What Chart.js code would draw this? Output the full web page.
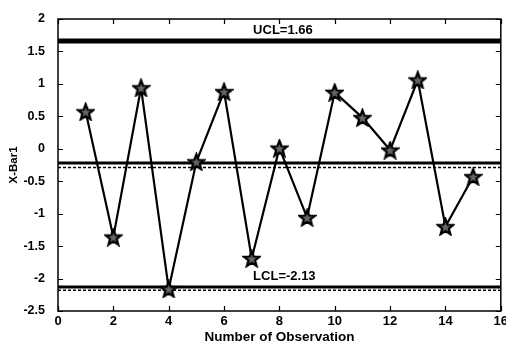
<!DOCTYPE html>
<html>
<head>
<meta charset="utf-8">
<script src="https://cdn.jsdelivr.net/npm/chart.js@4/dist/chart.umd.min.js"></script>
<style>
html,body{margin:0;padding:0;background:#fff;overflow:hidden;}
#wrap{width:506px;height:344px;position:relative;overflow:hidden;}
</style>
</head>
<body>
<div id="wrap"><canvas id="c" width="512" height="344"></canvas></div>
<script>
// ---- data ----
const observations = [1,2,3,4,5,6,7,8,9,10,11,12,13,14,15];
const xBar = [0.57,-1.36,0.94,-2.16,-0.20,0.88,-1.69,0.01,-1.06,0.87,0.48,-0.02,1.06,-1.20,-0.43];
const UCL = 1.66;
const CL = -0.22;
const CLdash = -0.29;
const LCL = -2.13;
const LCLdash = -2.18;
const limitLabels = ["UCL=1.66", "LCL=-2.13"];
const xTicks = [0,2,4,6,8,10,12,14,16];
const yTicks = [-2.5,-2,-1.5,-1,-0.5,0,0.5,1,1.5,2];

// star marker
function makeStar(size){
  const c = document.createElement('canvas');
  c.width = size; c.height = size;
  const g = c.getContext('2d');
  const cx = size/2, cy = size/2 + 0.8, R = size/2 - 1.2, r = R*0.42;
  g.beginPath();
  for (let i=0;i<10;i++){
    const a = -Math.PI/2 + i*Math.PI/5;
    const rad = i%2===0 ? R : r;
    const px = cx + rad*Math.cos(a), py = cy + rad*Math.sin(a);
    if(i===0) g.moveTo(px,py); else g.lineTo(px,py);
  }
  g.closePath();
  g.fillStyle = '#666';
  g.fill();
  g.lineWidth = 2.2;
  g.strokeStyle = '#000';
  g.lineJoin = 'miter';
  g.stroke();
  return c;
}
const star = makeStar(19);

const hline = (v) => [{x:0,y:v},{x:16,y:v}];

const FONT = "'Liberation Sans', Arial, sans-serif";

const framePlugin = {
  id:'frame',
  afterDatasetsDraw(chart){
    const {ctx, chartArea:a, scales:{x,y}} = chart;
    ctx.save();
    ctx.strokeStyle = '#000';
    ctx.lineWidth = 1.5;
    ctx.strokeRect(a.left, a.top, a.right-a.left, a.bottom-a.top);
    ctx.lineWidth = 1.2;
    const L = 5;
    xTicks.forEach(v=>{
      const px = Math.round(x.getPixelForValue(v))+0.5;
      ctx.beginPath();
      ctx.moveTo(px,a.bottom); ctx.lineTo(px,a.bottom-L);
      ctx.moveTo(px,a.top); ctx.lineTo(px,a.top+L);
      ctx.stroke();
    });
    yTicks.forEach(v=>{
      const py = Math.round(y.getPixelForValue(v))+0.5;
      ctx.beginPath();
      ctx.moveTo(a.left,py); ctx.lineTo(a.left+L,py);
      ctx.moveTo(a.right,py); ctx.lineTo(a.right-L,py);
      ctx.stroke();
    });
    ctx.fillStyle = '#000';
    // x tick labels
    ctx.font = "bold 13px " + FONT;
    ctx.textAlign = 'center';
    ctx.textBaseline = 'top';
    xTicks.forEach(v=>{
      ctx.fillText(String(v), x.getPixelForValue(v), a.bottom + 4);
    });
    // limit labels
    ctx.font = "bold 13px " + FONT;
    ctx.textBaseline = 'middle';
    ctx.textAlign = 'left';
    ctx.fillText(limitLabels[0], x.getPixelForValue(7.05), y.getPixelForValue(1.82));
    ctx.fillText(limitLabels[1], x.getPixelForValue(7.05), y.getPixelForValue(-1.97));
    ctx.restore();
  }
};

new Chart(document.getElementById('c'), {
  type:'line',
  data:{
    datasets:[
      {data:hline(UCL), borderColor:'#000', borderWidth:5, pointRadius:0, order:5},
      {data:hline(CL), borderColor:'#000', borderWidth:3, pointRadius:0, order:5},
      {data:hline(CLdash), borderColor:'#000', borderWidth:1.5, borderDash:[3,2], pointRadius:0, order:5},
      {data:hline(LCL), borderColor:'#000', borderWidth:3, pointRadius:0, order:5},
      {data:hline(LCLdash), borderColor:'#000', borderWidth:1.5, borderDash:[3,2], pointRadius:0, order:5},
      {data:observations.map((o,i)=>({x:o,y:xBar[i]})), borderColor:'#000', borderWidth:2.2,
       pointStyle:star, pointRadius:9, tension:0, order:1}
    ]
  },
  options:{
    responsive:false,
    animation:false,
    devicePixelRatio:1,
    layout:{padding:{top:19,right:-1,left:0,bottom:0}},
    plugins:{legend:{display:false}, tooltip:{enabled:false}},
    scales:{
      x:{
        type:'linear', min:0, max:16,
        afterBuildTicks:(s)=>{ s.ticks = xTicks.map(v=>({value:v})); },
        afterFit:(s)=>{ s.height = 33; s.paddingLeft = 0; s.paddingRight = 0; },
        grid:{display:false},
        border:{display:false},
        ticks:{display:false},
        title:{display:true, text:'Number of Observation', color:'#000', font:{family:FONT, size:13.5, weight:'bold'}, padding:{top:0,bottom:-1}}
      },
      y:{
        type:'linear', min:-2.5, max:2,
        afterBuildTicks:(s)=>{ s.ticks = yTicks.map(v=>({value:v})); },
        afterFit:(s)=>{ s.width = 58; s.paddingTop = 0; s.paddingBottom = 0; },
        grid:{display:false},
        border:{display:false},
        ticks:{color:'#000', font:{family:FONT, size:12.5, weight:'bold'}, padding:5, callback:(v)=>String(v)},
        title:{display:true, text:'X-Bar1', color:'#000', font:{family:FONT, size:11.5, weight:'bold'}, padding:{top:7,bottom:0}}
      }
    }
  },
  plugins:[framePlugin]
});
</script>
</body>
</html>
